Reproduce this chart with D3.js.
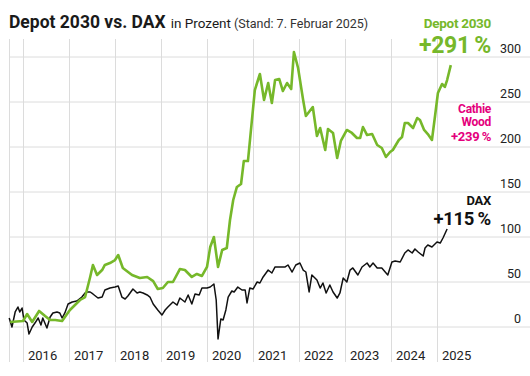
<!DOCTYPE html>
<html>
<head>
<meta charset="utf-8">
<script src="https://cdn.jsdelivr.net/npm/d3@7"></script>
<style>
  body { margin: 0; background: #fff; }
  svg { display: block; font-family: Roboto, "Noto Sans", sans-serif; }
</style>
</head>
<body>
<div id="chart"></div>
<script>
	// data (decimal years, performance in %)
	var years = [2016, 2017, 2018, 2019, 2020, 2021, 2022, 2023, 2024, 2025];
	var yTicks = [0, 50, 100, 150, 200, 250, 300];

	var depotDates = [2015.72, 2016.00, 2016.09, 2016.20, 2016.35, 2016.48, 2016.59, 2016.70, 2016.85, 2017.02,
		2017.24, 2017.35, 2017.46, 2017.52, 2017.61, 2017.72, 2017.78, 2017.89, 2018.00, 2018.07,
		2018.17, 2018.37, 2018.54, 2018.70, 2018.83, 2018.93, 2019.04, 2019.15, 2019.26, 2019.41,
		2019.52, 2019.67, 2019.78, 2019.89, 2020.00, 2020.07, 2020.15, 2020.24, 2020.33, 2020.43,
		2020.50, 2020.57, 2020.65, 2020.74, 2020.80, 2020.89, 2021.04, 2021.15, 2021.24, 2021.33,
		2021.41, 2021.48, 2021.57, 2021.65, 2021.74, 2021.83, 2021.89, 2021.98, 2022.09, 2022.15,
		2022.30, 2022.39, 2022.46, 2022.57, 2022.63, 2022.74, 2022.83, 2022.91, 2023.04, 2023.15,
		2023.26, 2023.33, 2023.39, 2023.48, 2023.59, 2023.70, 2023.80, 2023.89, 2023.98, 2024.04,
		2024.17, 2024.24, 2024.30, 2024.37, 2024.48, 2024.57, 2024.63, 2024.72, 2024.80, 2024.89,
		2024.96, 2025.02, 2025.11, 2025.17, 2025.22, 2025.30];
	var depotValues = [5.6, 6.7, 14.4, 5.6, 17.8, 12.2, 7.8, 7.8, 6.7, 18.9,
		30, 33.3, 55.6, 68.9, 57.8, 63.3, 68.9, 71.1, 74.4, 80,
		65.6, 57.8, 54.4, 55.6, 51, 42.2, 43.3, 50, 50, 64.4,
		63.3, 55.6, 58.9, 56.7, 66.7, 88.9, 100, 66.7, 85.6, 87.8,
		118.9, 141.1, 155.6, 158.9, 184.4, 184.4, 263.3, 281.1, 252.2, 271.1,
		248.9, 274.4, 275.6, 262.2, 271.1, 264.4, 305.6, 287.8, 252.2, 234.4,
		244.4, 212.2, 221.1, 196.7, 220, 215.6, 187.8, 206.7, 218.9, 215.6,
		210, 210, 222.2, 213.3, 214.4, 202.2, 198.9, 188.9, 194.4, 196.7,
		207.8, 211.1, 226.7, 226.7, 221.1, 232.2, 230, 218.9, 214.4, 207.8,
		235.6, 260, 270, 266.7, 274.4, 291];

	var daxDates = [2015.70, 2015.76, 2015.83, 2015.89, 2015.93, 2015.98, 2016.02, 2016.09, 2016.13, 2016.20,
		2016.26, 2016.33, 2016.39, 2016.43, 2016.52, 2016.59, 2016.65, 2016.74, 2016.80, 2016.85,
		2016.91, 2016.98, 2017.07, 2017.17, 2017.28, 2017.35, 2017.39, 2017.46, 2017.52, 2017.63,
		2017.72, 2017.78, 2017.89, 2018.00, 2018.07, 2018.15, 2018.22, 2018.28, 2018.39, 2018.48,
		2018.54, 2018.61, 2018.70, 2018.76, 2018.83, 2018.93, 2019.02, 2019.09, 2019.15, 2019.26,
		2019.35, 2019.41, 2019.52, 2019.59, 2019.67, 2019.74, 2019.83, 2019.89, 2020.00, 2020.07,
		2020.15, 2020.20, 2020.24, 2020.30, 2020.35, 2020.41, 2020.46, 2020.54, 2020.59, 2020.67,
		2020.76, 2020.83, 2020.87, 2020.93, 2021.00, 2021.09, 2021.15, 2021.22, 2021.33, 2021.41,
		2021.48, 2021.59, 2021.70, 2021.76, 2021.85, 2021.93, 2022.02, 2022.09, 2022.15, 2022.22,
		2022.28, 2022.39, 2022.46, 2022.52, 2022.59, 2022.67, 2022.74, 2022.83, 2022.89, 2022.96,
		2023.04, 2023.11, 2023.17, 2023.28, 2023.37, 2023.48, 2023.54, 2023.61, 2023.70, 2023.80,
		2023.93, 2024.02, 2024.09, 2024.20, 2024.30, 2024.37, 2024.46, 2024.52, 2024.59, 2024.70,
		2024.74, 2024.80, 2024.89, 2025.00, 2025.07, 2025.13, 2025.22];
	var daxValues = [10, 0, 16.7, 22.2, 16.7, 21.1, 7.8, 4.4, -7.8, 0,
		4.4, 10, 2.2, 10, -1.1, 11.1, 15.6, 16.7, 15.6, 10,
		15.6, 25.6, 27.8, 28.9, 33.3, 37.8, 38.9, 38.9, 36.7, 32.2,
		33.3, 41.1, 43.3, 44.4, 45.6, 33.3, 31.1, 34.4, 42.2, 37.8,
		38.9, 37.8, 35.6, 33.3, 25.6, 18.9, 13.3, 18.9, 22.2, 27.8,
		24.4, 32.2, 27.8, 35.6, 25.6, 36.7, 35.6, 43.3, 43.3, 44.4,
		47.8, 30, -13.3, 8.9, 7.8, 18.9, 33.3, 40, 38.9, 44.4,
		41.1, 41.1, 26.7, 43.3, 42.2, 50, 48.9, 55.6, 63.3, 60,
		66.7, 66.7, 66.7, 68.9, 61.1, 68.9, 71.1, 63.3, 61.1, 38.9,
		57.8, 52.2, 43.3, 48.9, 37.8, 46.7, 38.9, 32.2, 37.8, 54.4,
		50, 63.3, 65.6, 57.8, 66.7, 71.1, 66.7, 71.1, 65.6, 65.6,
		57.8, 72.2, 73.3, 72.2, 82.2, 85.6, 82.2, 86.7, 83.3, 78.9,
		87.8, 91.1, 88.9, 94.4, 93.3, 98.9, 108.9];

	var green = "#76b82a",
		pink = "#e4007c",
		dark = "#111111",
		gridColor = "#dcdcdc";

	var width = 530, height = 376;

	var svg = d3.select("#chart")
		.append("svg")
			.attr("width", width)
			.attr("height", height);

	svg.append("rect")
		.attr("width", width)
		.attr("height", height)
		.attr("fill", "#ffffff");

	// scales
	var x = d3.scaleLinear()
		.domain([2016, 2025])
		.range([23, 437]);
	var y = d3.scaleLinear()
		.domain([0, 300])
		.range([327, 57]);

	var left = 9;

	// grid: horizontal
	svg.append("g")
		.selectAll("line")
		.data(yTicks)
		.enter().append("line")
			.attr("x1", left)
			.attr("x2", width)
			.attr("y1", function(d) { return y(d); })
			.attr("y2", function(d) { return y(d); })
			.attr("stroke", gridColor)
			.attr("stroke-width", 1);

	// grid: vertical (year starts + left edge)
	svg.append("g")
		.selectAll("line")
		.data([x.invert(left)].concat(years))
		.enter().append("line")
			.attr("x1", function(d) { return Math.round(x(d)) + 0.5; })
			.attr("x2", function(d) { return Math.round(x(d)) + 0.5; })
			.attr("y1", 39)
			.attr("y2", 362)
			.attr("stroke", gridColor)
			.attr("stroke-width", 1);

	// y labels
	svg.append("g")
		.selectAll("text")
		.data(yTicks)
		.enter().append("text")
			.attr("x", 521)
			.attr("y", function(d) { return y(d) - 4; })
			.attr("text-anchor", "end")
			.attr("font-size", "12.5px")
			.attr("fill", "#222")
			.text(function(d) { return d; });

	// year labels
	svg.append("g")
		.selectAll("text")
		.data(years)
		.enter().append("text")
			.attr("x", function(d) { return x(d) + 5; })
			.attr("y", 360)
			.attr("font-size", "13px")
			.attr("fill", "#222")
			.text(function(d) { return d; });

	// lines
	var line = d3.line()
		.x(function(d) { return x(d[0]); })
		.y(function(d) { return y(d[1]); });

	var daxData = daxDates.map(function(d, i) { return [d, daxValues[i]]; });
	var depotData = depotDates.map(function(d, i) { return [d, depotValues[i]]; });

	svg.append("path")
		.datum(daxData)
		.attr("d", line)
		.attr("fill", "none")
		.attr("stroke", dark)
		.attr("stroke-width", 1.5)
		.attr("stroke-linejoin", "round");

	svg.append("path")
		.datum(depotData)
		.attr("d", line)
		.attr("fill", "none")
		.attr("stroke", green)
		.attr("stroke-width", 2.6)
		.attr("stroke-linejoin", "round");

	// title
	var title = svg.append("text")
		.attr("x", 9)
		.attr("y", 28)
		.attr("fill", "#1a1a1a");
	title.append("tspan")
		.attr("font-size", "17.5px")
		.attr("font-weight", "bold")
		.text("Depot 2030 vs. DAX");
	title.append("tspan")
		.attr("font-size", "13.5px")
		.attr("dx", 5)
		.text("in Prozent");
	title.append("tspan")
		.attr("font-size", "12.5px")
		.attr("dx", 3)
		.attr("fill", "#333")
		.text("(Stand: 7. Februar 2025)");

	// end labels
	var labels = [
		{ text: "Depot 2030", y: 28, size: 13.5, color: green },
		{ text: "+291\u2009%", y: 53, size: 23, color: green },
		{ text: "Cathie", y: 113, size: 12, color: pink },
		{ text: "Wood", y: 126, size: 12, color: pink },
		{ text: "+239\u2009%", y: 141, size: 13, color: pink },
		{ text: "DAX", y: 205, size: 13, color: dark },
		{ text: "+115\u2009%", y: 225, size: 18.5, color: dark }
	];

	svg.append("g")
		.selectAll("text")
		.data(labels)
		.enter().append("text")
			.attr("x", 491)
			.attr("y", function(d) { return d.y; })
			.attr("text-anchor", "end")
			.attr("font-weight", "bold")
			.attr("font-size", function(d) { return d.size + "px"; })
			.attr("fill", function(d) { return d.color; })
			.style("letter-spacing", "-0.3px")
			.text(function(d) { return d.text; });
</script>
</body>
</html>
